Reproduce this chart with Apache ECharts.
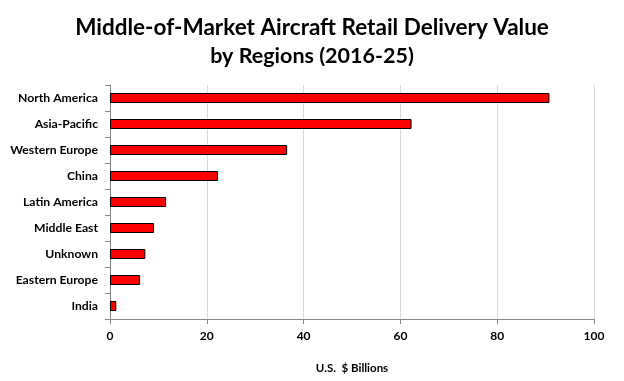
<!DOCTYPE html>
<html><head><meta charset="utf-8">
<script src="https://cdn.jsdelivr.net/npm/echarts@6/dist/echarts.min.js"></script>
<style>html,body{margin:0;padding:0;background:#fff}#c{width:624px;height:381px}</style>
</head><body><div id="c"></div>
<script>
const categories = ["North America","Asia-Pacific","Western Europe","China","Latin America","Middle East","Unknown","Eastern Europe","India"];
const values = [90.8, 62.3, 36.6, 22.3, 11.6, 9.1, 7.3, 6.2, 1.3];
const xTicks = [0, 20, 40, 60, 80, 100];
const titleLine1 = "Middle-of-Market Aircraft Retail Delivery Value";
const titleLine2 = "by Regions (2016-25)";
const xName = "U.S.  $ Billions";

const chart = echarts.init(document.getElementById('c'), null, {renderer:'canvas'});
const font = 'Lato';
chart.setOption({
  animation: false,
  textStyle: {fontFamily: font},
  title: [
    {text: titleLine1, left: 'center', top: 11,
     textStyle: {fontFamily: font, fontWeight: 'bold', fontSize: 22.5, color: '#000'}},
    {text: titleLine2, left: 'center', top: 40,
     textStyle: {fontFamily: font, fontWeight: 'bold', fontSize: 21.5, color: '#000'}}
  ],
  grid: {left: 110, right: 30, top: 85, bottom: 62, containLabel: false},
  xAxis: {
    type: 'value', min: xTicks[0], max: xTicks[xTicks.length-1], interval: 20,
    name: xName, nameLocation: 'middle', nameGap: 43,
    nameTextStyle: {fontFamily: font, fontWeight: 'bold', fontSize: 11.5, color: '#000'},
    axisLine: {show: true, lineStyle: {color: '#868686'}},
    axisTick: {show: true, length: 5, lineStyle: {color: '#868686'}},
    axisLabel: {fontFamily: font, fontWeight: 'bold', fontSize: 12, color: '#000', margin: 11},
    splitLine: {show: true, lineStyle: {color: '#d9d9d9'}}
  },
  yAxis: {
    type: 'category', data: categories, inverse: true,
    axisLine: {show: true, lineStyle: {color: '#868686'}},
    axisTick: {show: true, length: 5, alignWithLabel: false, lineStyle: {color: '#868686'}},
    axisLabel: {fontFamily: font, fontWeight: 'bold', fontSize: 12.2, color: '#000', margin: 12},
    splitLine: {show: false}
  },
  series: [{
    type: 'bar', data: values, barWidth: 10,
    itemStyle: {color: '#ff0000', borderColor: '#000', borderWidth: 1}
  }]
});
</script></body></html>
